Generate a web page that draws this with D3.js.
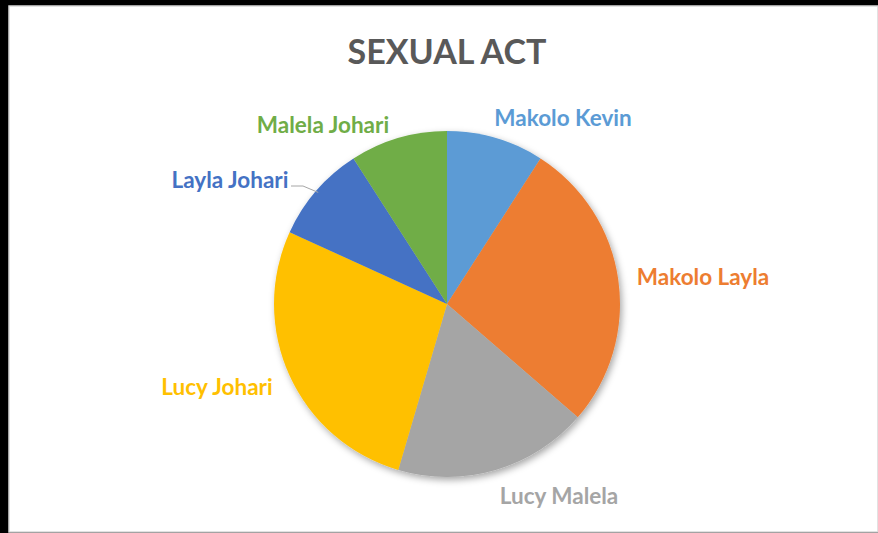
<!DOCTYPE html>
<html>
<head>
<meta charset="utf-8">
<script src="https://cdn.jsdelivr.net/npm/d3@7/dist/d3.min.js"></script>
<style>
  html, body { margin: 0; padding: 0; background: #000; }
  svg { display: block; }
</style>
</head>
<body>
<svg id="chart" width="878" height="533"></svg>
<script>
// Pie data: who and how many
const categories = ["Makolo Kevin", "Makolo Layla", "Lucy Malela", "Lucy Johari", "Layla Johari", "Malela Johari"];
const values = [1, 3, 2, 3, 1, 1];
const colors = ["#5B9BD5", "#ED7D31", "#A5A5A5", "#FFC000", "#4472C4", "#70AD47"];
const title = "SEXUAL ACT";

const W = 878, H = 533;
const svg = d3.select("#chart");

// chart area frame
svg.append("rect").attr("x", 0).attr("y", 0).attr("width", W).attr("height", H).attr("fill", "#000");
svg.append("rect").attr("x", 9).attr("y", 6).attr("width", W - 9).attr("height", 526)
  .attr("fill", "#fff").attr("stroke", "#D9D9D9").attr("stroke-width", 1.5);

const defs = svg.append("defs");
const f = defs.append("filter").attr("id", "shadow")
  .attr("x", "-20%").attr("y", "-20%").attr("width", "140%").attr("height", "140%");
f.append("feDropShadow").attr("dx", 2).attr("dy", 3).attr("stdDeviation", 3.5)
  .attr("flood-color", "#000").attr("flood-opacity", 0.35);

svg.append("text")
  .attr("x", 447).attr("y", 64)
  .attr("text-anchor", "middle")
  .attr("font-family", "Lato, 'Open Sans', sans-serif")
  .attr("font-weight", 700)
  .attr("font-size", 34)
  .attr("fill", "#595959")
  .text(title);

const cx = 447, cy = 304, R = 173;
const data = categories.map((c, i) => ({ name: c, value: values[i], color: colors[i] }));
const pie = d3.pie().value(d => d.value).sort(null);
const arcs = pie(data);
const arc = d3.arc().innerRadius(0).outerRadius(R);

const g = svg.append("g").attr("transform", `translate(${cx},${cy})`);
g.append("g").attr("filter", "url(#shadow)")
  .selectAll("path").data(arcs).join("path")
  .attr("d", arc)
  .attr("fill", d => d.data.color);

// data label positions, relative to the pie centre
const labelPos = {
  "Makolo Kevin": [116, -178],
  "Makolo Layla": [256, -19],
  "Lucy Malela": [112, 200],
  "Lucy Johari": [-230, 91],
  "Layla Johari": [-217, -116],
  "Malela Johari": [-124, -171]
};

g.selectAll("text.lbl").data(arcs).join("text")
  .attr("class", "lbl")
  .attr("text-anchor", "middle")
  .attr("font-family", "Lato, 'Open Sans', sans-serif")
  .attr("font-weight", 700)
  .attr("font-size", 22.5)
  .attr("fill", d => d.data.color)
  .attr("x", d => labelPos[d.data.name][0])
  .attr("y", d => labelPos[d.data.name][1])
  .text(d => d.data.name);

// leader line from the Layla Johari label to its slice edge
const lj = arcs[4];
const mid = (lj.startAngle + lj.endAngle) / 2;
const edge = [Math.sin(mid) * R, -Math.cos(mid) * R];
g.append("path")
  .attr("d", d3.line()([[-156, -118], [-144, -118], [edge[0] * 0.985, edge[1] * 0.985]]))
  .attr("fill", "none").attr("stroke", "#A6A6A6").attr("stroke-width", 1);
</script>
</body>
</html>
